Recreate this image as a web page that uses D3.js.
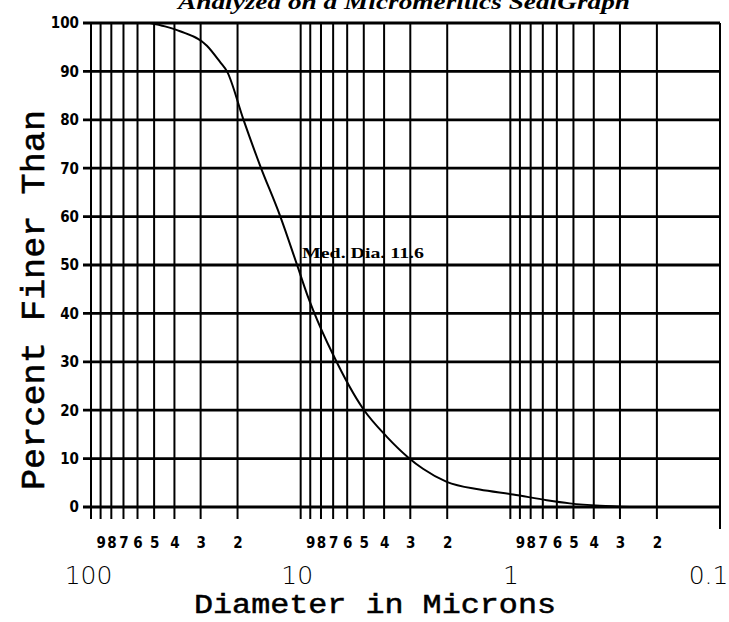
<!DOCTYPE html>
<html><head><meta charset="utf-8">
<script src="https://cdn.jsdelivr.net/npm/d3@7"></script>
<style>body{margin:0;background:#fff} svg{display:block}</style>
</head><body><svg id="c" width="729" height="622"></svg>
<script>
const titleText = "Analyzed on a Micromeritics SediGraph";
const xTitle = "Diameter in Microns";
const yTitle = "Percent Finer Than";
const medianLabel = "Med. Dia. 11.6";
const decadeTicks = [100, 10, 1, 0.1];
const decadeLabels = ["100", "10", "1", "0.1"];
const minorDigits = [9, 8, 7, 6, 5, 4, 3, 2];
const yTicks = [0, 10, 20, 30, 40, 50, 60, 70, 80, 90, 100];
const diameters = [52.3, 44.4, 37.6, 28.0, 24.3, 22.4, 18.8, 15.6, 12.55, 10.4, 9.33, 8.74, 7.01, 5.04, 3.88, 3.08, 2.61, 2.01, 1.40, 0.97, 0.67, 0.52, 0.374, 0.269];
const percentFiner = [100, 99.3, 98.3, 95.3, 92.0, 89.9, 80.2, 70.5, 60.2, 50.0, 44.0, 40.8, 31.5, 20.3, 14.5, 10.3, 7.9, 5.2, 3.6, 2.6, 1.4, 0.75, 0.25, 0];

const svg = d3.select("#c");
const x = d3.scaleLog().domain([100, 0.1]).range([91, 720]);
const y = d3.scaleLinear().domain([0, 100]).range([507, 23]);

// minor grid values: m * decade for decades 10, 1, 0.1
const minorVals = [];
decadeTicks.slice(1).forEach(b => minorDigits.forEach(m => minorVals.push(m * b)));
const allV = decadeTicks.concat(minorVals);

const grid = svg.append("g").attr("stroke", "#000");
grid.selectAll("line.v").data(allV).enter().append("line")
  .attr("x1", d => x(d)).attr("x2", d => x(d))
  .attr("y1", y(100)).attr("y2", d => d === 0.1 ? y(0) + 22 : y(0) + 12)
  .attr("stroke-width", 2);
grid.selectAll("line.h").data(yTicks).enter().append("line")
  .attr("x1", 83).attr("x2", x(0.1))
  .attr("y1", d => y(d)).attr("y2", d => y(d))
  .attr("stroke-width", 2.8);

// y axis labels
const ya = svg.append("g").attr("transform", "translate(83,0)")
  .call(d3.axisLeft(y).tickValues(yTicks).tickSize(0).tickPadding(4));
ya.select(".domain").remove();
ya.selectAll("text").attr("font-family", "'Liberation Sans Narrow','DejaVu Sans Condensed',Arial,sans-serif")
  .attr("font-weight", "bold").attr("font-size", 15).attr("fill", "#000");

// minor digit labels
const xm = svg.append("g").attr("transform", "translate(0,548)")
  .call(d3.axisBottom(x).tickValues(minorVals).tickSize(0)
    .tickFormat(d => String(Math.round(d / Math.pow(10, Math.floor(Math.log10(d) + 1e-9))))));
xm.select(".domain").remove();
xm.selectAll("text").attr("y", 0).attr("dy", 0)
  .attr("font-family", "'Liberation Sans Narrow','DejaVu Sans Condensed',Arial,sans-serif")
  .attr("font-weight", "bold").attr("font-size", 15).attr("fill", "#000");

// decade labels
const xd = svg.append("g").attr("transform", "translate(0,584)")
  .call(d3.axisBottom(x).tickValues(decadeTicks).tickSize(0)
    .tickFormat((d, i) => decadeLabels[i]));
xd.select(".domain").remove();
xd.selectAll("text").attr("y", 0).attr("dy", 0)
  .attr("font-family", "'DejaVu Sans',sans-serif").attr("font-weight", 300)
  .attr("font-size", 25).attr("fill", "#000")
  .attr("dx", d => d === 100 ? -3 : (d === 10 ? -4 : (d === 0.1 ? -12 : 0)));

// curve
const pts = diameters.map((d, i) => [d, percentFiner[i]]);
svg.append("path").datum(pts)
  .attr("fill", "none").attr("stroke", "#000").attr("stroke-width", 2)
  .attr("d", d3.line().x(d => x(d[0])).y(d => y(d[1])).curve(d3.curveMonotoneX));

// median label
svg.append("text").attr("x", 302).attr("y", 258)
  .attr("font-family", "'Liberation Serif',serif").attr("font-weight", "bold")
  .attr("font-size", 15).attr("textLength", 122).attr("lengthAdjust", "spacingAndGlyphs")
  .text(medianLabel);

// title (partially cut off at top, as in the scan)
svg.append("text").attr("x", 178).attr("y", 9)
  .attr("font-family", "'Liberation Serif',serif").attr("font-weight", "bold")
  .attr("font-style", "italic").attr("font-size", 22)
  .attr("textLength", 452).attr("lengthAdjust", "spacingAndGlyphs")
  .text(titleText);

// x title
svg.append("text").attr("x", 194).attr("y", 613)
  .attr("font-family", "'Liberation Mono',monospace").attr("font-size", 27)
  .attr("stroke", "#000").attr("stroke-width", 0.5)
  .attr("textLength", 362).attr("lengthAdjust", "spacingAndGlyphs")
  .text(xTitle);

// y title
svg.append("text").attr("transform", "translate(44,490) rotate(-90)")
  .attr("font-family", "'Liberation Mono',monospace").attr("font-size", 34)
  .attr("stroke", "#000").attr("stroke-width", 0.6)
  .attr("textLength", 380).attr("lengthAdjust", "spacingAndGlyphs")
  .text(yTitle);
</script></body></html>
